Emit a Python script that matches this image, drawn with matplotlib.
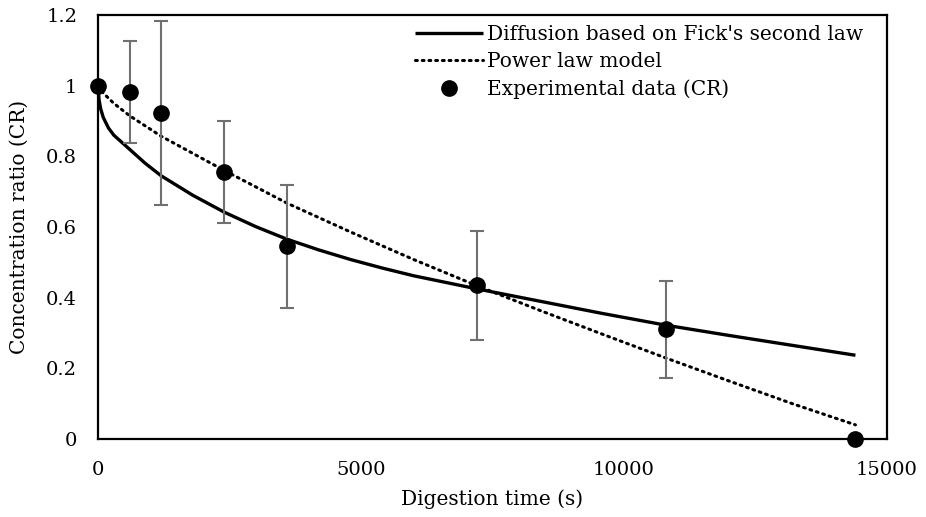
import numpy as np
import matplotlib.pyplot as plt

# experimental data
t_exp = [0, 600, 1200, 2400, 3600, 7200, 10800, 14400]
cr_exp = [1.0, 0.982, 0.923, 0.755, 0.545, 0.435, 0.31, 0.0]
cr_err = [0, 0.143, 0.26, 0.145, 0.175, 0.155, 0.136, 0]

# diffusion model (Fick's second law)
t_fick = [0, 20, 50, 100, 200, 300, 450, 600, 900, 1200, 1800, 2400, 3000, 3600,
          4200, 4800, 5400, 6000, 7200, 8400, 9600, 10800, 12000, 13200, 14400]
cr_fick = [1.0, 0.96, 0.935, 0.91, 0.88, 0.86, 0.84, 0.82, 0.78, 0.745, 0.69, 0.642,
           0.601, 0.565, 0.535, 0.508, 0.484, 0.462, 0.425, 0.39, 0.355, 0.322,
           0.293, 0.265, 0.237]

# power law model
t_pow = [0, 100, 300, 600, 1200, 2400, 3600, 4800, 6000, 7200, 8400, 9600,
         10800, 12000, 13200, 14400]
cr_pow = [1.0, 0.979, 0.95, 0.915, 0.857, 0.76, 0.667, 0.586, 0.508, 0.434,
          0.364, 0.296, 0.229, 0.164, 0.10, 0.04]

plt.rcParams['font.family'] = ['DejaVu Serif']

fig = plt.figure(figsize=(9.26, 5.17), dpi=100)
ax = fig.add_axes([98/926, 1-439/517, (887-98)/926, (439-15)/517])

ax.plot(t_fick, cr_fick, color='black', lw=2.4, solid_capstyle='butt',
        label="Diffusion based on Fick's second law")
ax.plot(t_pow, cr_pow, color='black', lw=2.2, linestyle=(0, (0.6, 1.6)),
        dash_capstyle='round', label='Power law model')
ax.errorbar(t_exp, cr_exp, yerr=cr_err, fmt='none', ecolor='#707070',
            elinewidth=1.5, capsize=5, capthick=1.5)
ax.plot(t_exp, cr_exp, 'o', color='black', ms=11, clip_on=False, zorder=5,
        label='Experimental data (CR)')

ax.set_xlim(0, 15000)
ax.set_ylim(0, 1.2)
ax.set_xticks([0, 5000, 10000, 15000])
ax.set_yticks([0, 0.2, 0.4, 0.6, 0.8, 1.0, 1.2])
ax.set_yticklabels(['0', '0.2', '0.4', '0.6', '0.8', '1', '1.2'])
ax.tick_params(axis='y', length=0, labelsize=14, pad=15)
ax.tick_params(axis='x', length=0, labelsize=14, pad=16)
for s in ax.spines.values():
    s.set_linewidth(1.6)

ax.set_xlabel('Digestion time (s)', fontsize=14.5)
ax.set_ylabel('Concentration ratio (CR)', fontsize=14.5)
ax.xaxis.set_label_coords(0.5, -0.118)
ax.yaxis.set_label_coords(-0.088, 0.5)

ax.legend(loc='upper right', bbox_to_anchor=(0.97, 0.976), frameon=False,
          fontsize=14.5, handlelength=3.4, handletextpad=0.2, borderpad=0,
          borderaxespad=0, labelspacing=0.4)

fig.savefig('out.png', dpi=100)
